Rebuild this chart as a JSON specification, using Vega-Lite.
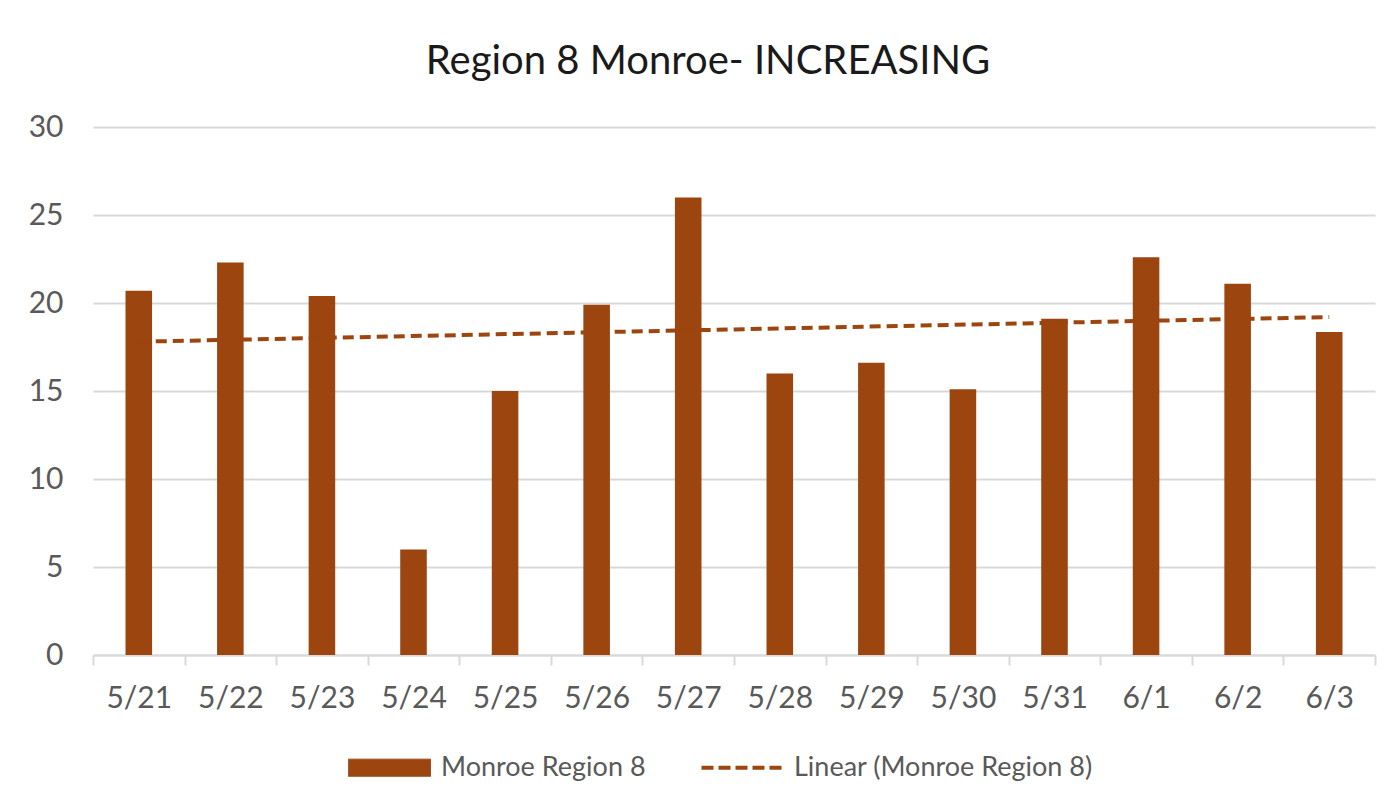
{
  "$schema": "https://vega.github.io/schema/vega-lite/v6.json",
  "width": 1282,
  "height": 528,
  "autosize": {"type": "none"},
  "padding": {"left": 93, "top": 127, "right": 18, "bottom": 155},
  "background": "white",
  "title": {
    "text": "Region 8 Monroe- INCREASING",
    "font": "Lato",
    "fontSize": 40,
    "fontWeight": "normal",
    "color": "#1a1a1a",
    "anchor": "middle",
    "dx": -26,
    "offset": 30
  },
  "config": {
    "view": {"stroke": null},
    "font": "Lato",
    "legend": {"layout": {"bottom": {"anchor": "middle"}}}
  },
  "data": {
    "values": [
      {"date": "5/21", "value": 20.7, "trend": 17.8},
      {"date": "5/22", "value": 22.3},
      {"date": "5/23", "value": 20.4},
      {"date": "5/24", "value": 6},
      {"date": "5/25", "value": 15},
      {"date": "5/26", "value": 19.9},
      {"date": "5/27", "value": 26},
      {"date": "5/28", "value": 16},
      {"date": "5/29", "value": 16.6},
      {"date": "5/30", "value": 15.1},
      {"date": "5/31", "value": 19.1},
      {"date": "6/1", "value": 22.6},
      {"date": "6/2", "value": 21.1},
      {"date": "6/3", "value": 18.35, "trend": 19.2}
    ]
  },
  "encoding": {
    "x": {
      "field": "date",
      "type": "ordinal",
      "sort": null,
      "scale": {"paddingInner": 0, "paddingOuter": 0},
      "axis": {
        "title": null,
        "labelAngle": 0,
        "labelFont": "Lato",
        "labelFontSize": 30,
        "labelColor": "#595959",
        "domainColor": "#d9d9d9",
        "domainWidth": 2,
        "tickColor": "#d9d9d9",
        "tickWidth": 2,
        "tickSize": 10,
        "tickBand": "extent",
        "labelPadding": 18,
        "grid": false
      }
    }
  },
  "layer": [
    {
      "mark": {"type": "bar", "width": {"band": 0.29}},
      "encoding": {
        "y": {
          "field": "value",
          "type": "quantitative",
          "scale": {"domain": [0, 30]},
          "axis": {
            "title": null,
            "values": [0, 5, 10, 15, 20, 25, 30],
            "grid": true,
            "gridColor": "#d9d9d9",
            "gridWidth": 2,
            "domain": false,
            "ticks": false,
            "labelPadding": 30,
            "labelFont": "Lato",
            "labelFontSize": 30,
            "labelColor": "#595959"
          }
        },
        "color": {
          "datum": "Monroe Region 8",
          "scale": {
            "domain": ["Monroe Region 8", "Linear (Monroe Region 8)"],
            "range": ["#9C450F", "#9C450F"]
          },
          "legend": {
            "title": null,
            "orient": "bottom",
            "direction": "horizontal",
            "labelFont": "Lato",
            "labelFontSize": 27,
            "labelColor": "#595959",
            "labelLimit": 0,
            "symbolSize": 6724,
            "labelOffset": 38,
            "columnPadding": 47,
            "offset": 41,
            "encode": {
              "symbols": {
                "update": {
                  "shape": {"signal": "datum.value === 'Monroe Region 8' ? 'M-1,-0.21H1V0.21H-1Z' : 'M-1,0H1'"},
                  "fill": {"signal": "datum.value === 'Monroe Region 8' ? '#9C450F' : 'transparent'"},
                  "stroke": {"value": "#9C450F"},
                  "strokeWidth": {"signal": "datum.value === 'Monroe Region 8' ? 1 : 4"},
                  "strokeDash": {"signal": "datum.value === 'Monroe Region 8' ? [1, 0] : [12, 5]"},
                  "size": {"value": 6724},
                  "opacity": {"value": 1}
                }
              }
            }
          }
        }
      }
    },
    {
      "transform": [{"filter": "isValid(datum.trend)"}],
      "mark": {"type": "line", "strokeWidth": 4, "strokeDash": [11, 6]},
      "encoding": {
        "y": {"field": "trend", "type": "quantitative"},
        "color": {"datum": "Linear (Monroe Region 8)"}
      }
    }
  ]
}
